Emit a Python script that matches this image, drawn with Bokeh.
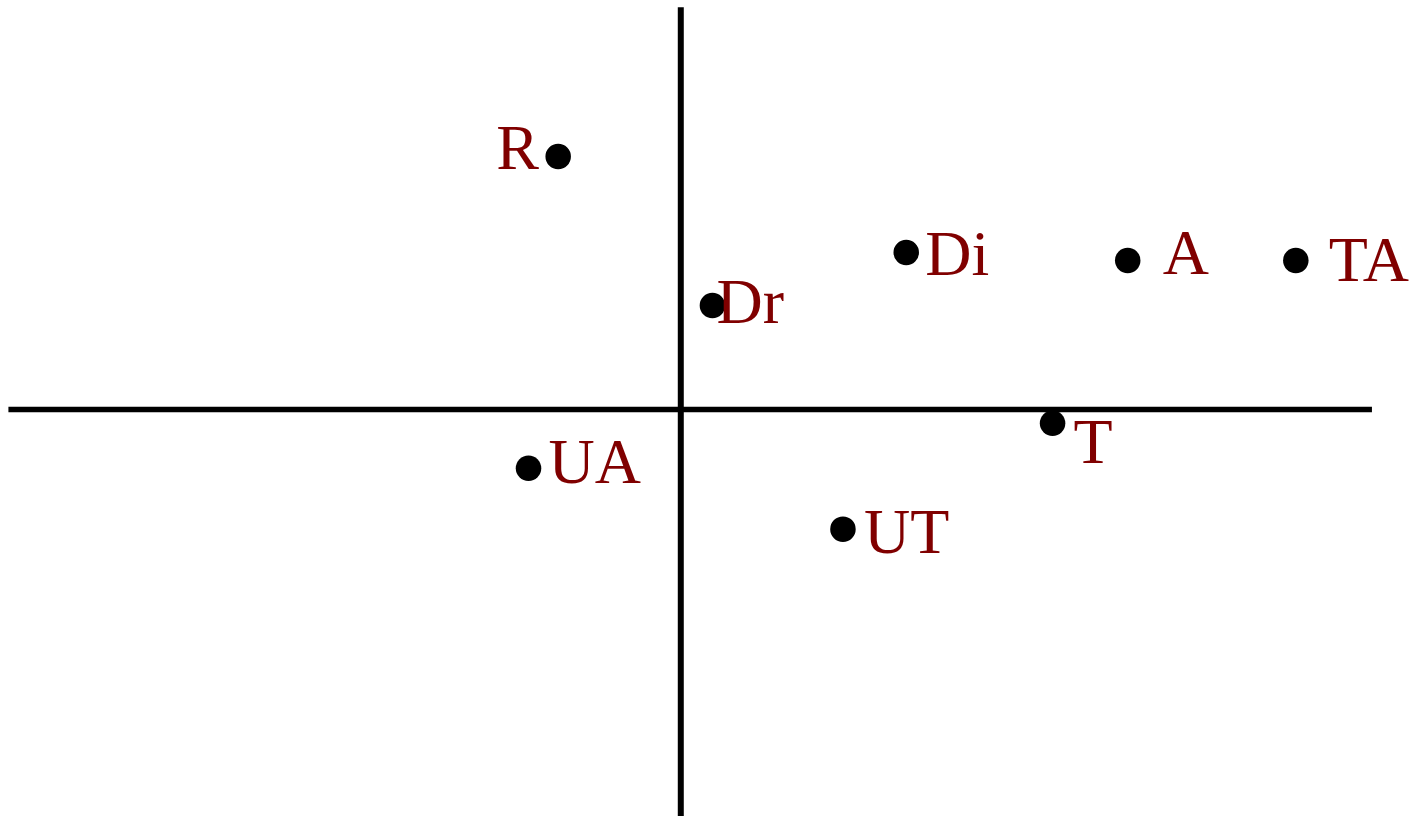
from bokeh.plotting import figure
from bokeh.models import ColumnDataSource
from bokeh.core.properties import value
from bokeh.embed import file_html
from bokeh.resources import INLINE

# ---- data ----
labels = ["R", "Dr", "Di", "A", "TA", "UA", "T", "UT"]
dim1 = [-0.31, 0.08, 0.57, 1.13, 1.555, -0.385, 0.94, 0.41]
dim2 = [0.645, 0.265, 0.40, 0.38, 0.38, -0.15, -0.035, -0.305]

# ---- label placement (screen pixels, style only) ----
label_dx = [-62, 4, 19, 35, 33, 20, 21, 21]
label_dy = [-9, -4, 1, -8, -1, -7, 18, 2]

W, H = 1411, 816
p = figure(width=W, height=H, output_backend="svg", toolbar_location=None,
           x_range=(-1.72, 1.8475), y_range=(-1.0375, 1.0425),
           x_axis_type=None, y_axis_type=None, min_border=0,
           outline_line_color=None, background_fill_color="white",
           border_fill_color="white")
p.grid.visible = False

# axis cross lines
p.line(x=[-1.7, 1.7475], y=[0, 0], line_color="black", line_width=5.5)
p.line(x=[0, 0], y=[1.025, -1.1], line_color="black", line_width=6)

src = ColumnDataSource(dict(x=dim1, y=dim2, lab=labels, dx=label_dx, dy=label_dy))
p.scatter(x="x", y="y", source=src, size=25.5, fill_color="black", line_color=None)
p.text(x="x", y="y", text="lab", source=src, x_offset="dx", y_offset="dy",
       text_font=value("Liberation Serif"), text_font_size="64px",
       text_color="#800000", text_align="left", text_baseline="alphabetic")

open("out.html", "w").write(file_html(p, INLINE))
